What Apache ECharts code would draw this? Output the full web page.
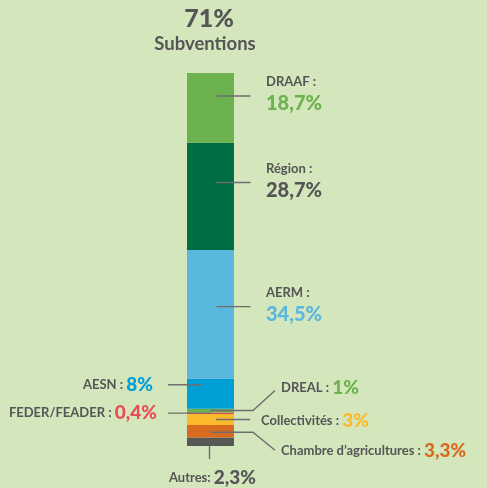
<!DOCTYPE html>
<html><head><meta charset="utf-8">
<script src="https://cdn.jsdelivr.net/npm/echarts@6/dist/echarts.min.js"></script>
<style>html,body{margin:0;padding:0;background:#d3e6bc}#c{width:487px;height:488px}</style>
</head><body><div id="c"></div>
<script>
// Data (bottom to top of the stacked bar)
const categories = ['Autres', 'Chambre d\u2019agricultures', 'Collectivités', 'FEDER/FEADER', 'DREAL', 'AESN', 'AERM', 'Région', 'DRAAF'];
const values = [2.3, 3.3, 3, 0.4, 1, 8, 34.5, 28.7, 18.7];
const valueLabels = ['2,3%', '3,3%', '3%', '0,4%', '1%', '8%', '34,5%', '28,7%', '18,7%'];
const totalLabel = '71%';
const totalTitle = 'Subventions';

// Styles
const segColors = ['#575756', '#d86b1f', '#fbb92b', '#e94b59', '#6cb24f', '#00a0d7', '#5ab7de', '#006e44', '#6cb24f'];
const valueColors = ['#555555', '#d86b1f', '#fbb92b', '#e94b59', '#6cb24f', '#00a0d7', '#5ab7de', '#555555', '#6cb24f'];
// label layout: where the leader line touches the segment (fraction from segment top) and label style
const anchorFrac = [1, 0.58, 0.5, 0.5, 0.5, 0.2, 0.44, 0.37, 0.33];
const labelKind = ['below', 'rightDown', 'right', 'left', 'rightUp', 'left', 'right2', 'right2', 'right2'];

const GREY = '#555555';
const LINE = '#6e6e6e';
const FONT = 'Lato, "Open Sans", sans-serif';

const chart = echarts.init(document.getElementById('c'), null, {renderer: 'canvas'});
const total = values.reduce((a, b) => a + b, 0);

chart.setOption({
  backgroundColor: '#d3e6bc',
  animation: false,
  grid: {left: 187, width: 47, top: 73, bottom: 42},
  xAxis: {type: 'category', data: ['Subventions'], show: false},
  yAxis: {type: 'value', min: 0, max: total, show: false},
  series: categories.map((c, i) => ({
    name: c, type: 'bar', stack: 'all', barWidth: '100%',
    data: [values[i]], itemStyle: {color: segColors[i]}, emphasis: {disabled: true}
  }))
});

const P = v => chart.convertToPixel({gridIndex: 0}, [0, v]);
const g = [];
const line = pts => g.push({type: 'polyline', shape: {points: pts}, style: {stroke: LINE, lineWidth: 1.4, fill: null}, z: 10});
const text = (x, y, t, rich, align) => g.push({type: 'text', z: 11, style: {
  x, y, text: t, rich, align, textAlign: align, verticalAlign: 'middle', textVerticalAlign: 'middle'
}});
const nameStyle = {fontFamily: FONT, fontSize: 13, fontWeight: 'bold', fill: GREY, color: GREY};
const valStyle = (c, s) => ({fontFamily: FONT, fontSize: s, fontWeight: 900, fill: c, color: c});

let cum = 0;
categories.forEach((c, i) => {
  const top = cum + values[i];
  const av = top - values[i] * anchorFrac[i];
  cum = top;
  const [cx, y] = P(av);
  const k = labelKind[i];
  if (k === 'right2') {
    line([[cx + 6, y], [cx + 40, y]]);
    text(cx + 55.5, y - 14, '{n|' + c + ' :}', {n: nameStyle}, 'left');
    text(cx + 55.5, y + 8, '{v|' + valueLabels[i] + '}', {v: valStyle(valueColors[i], 20)}, 'left');
  } else if (k === 'left') {
    const x2 = i === 5 ? cx - 8 : cx + 1;
    line([[cx - 42.5, y], [x2, y]]);
    text(i === 5 ? cx - 57.5 : cx - 53.5, y, '{n|' + c + ' : }{v|' + valueLabels[i] + '}', {n: nameStyle, v: valStyle(valueColors[i], 19)}, 'right');
  } else if (k === 'right') {
    line([[cx + 5.5, y], [cx + 39.5, y]]);
    text(cx + 50.5, y + 1, '{n|' + c + ' : }{v|' + valueLabels[i] + '}', {n: nameStyle, v: valStyle(valueColors[i], 19)}, 'left');
  } else if (k === 'rightUp') {
    line([[cx, y], [cx + 42.5, y], [cx + 64.5, y - 20]]);
    text(cx + 70.5, y - 23, '{n|' + c + ' : }{v|' + valueLabels[i] + '}', {n: nameStyle, v: valStyle(valueColors[i], 19)}, 'left');
  } else if (k === 'rightDown') {
    line([[cx, y], [cx + 42.5, y], [cx + 64.5, y + 18]]);
    text(cx + 70.5, y + 19, '{n|' + c + ' : }{v|' + valueLabels[i] + '}', {n: nameStyle, v: valStyle(valueColors[i], 19)}, 'left');
  } else if (k === 'below') {
    const [bx, by] = P(0);
    line([[bx - 1, by], [bx - 1, by + 13]]);
    text(bx + 2, by + 32, '{n|' + c + ': }{v|' + valueLabels[i] + '}', {n: nameStyle, v: valStyle(valueColors[i], 19)}, 'center');
  }
});

const [tx] = P(total);
text(tx - 1.5, 18.5, '{t|' + totalLabel + '}', {t: valStyle(GREY, 25)}, 'center');
text(tx - 5.5, 44, '{s|' + totalTitle + '}', {s: {fontFamily: FONT, fontSize: 18.5, fontWeight: 'bold', fill: GREY, color: GREY}}, 'center');

chart.setOption({graphic: {elements: g}});
</script>
</body></html>
